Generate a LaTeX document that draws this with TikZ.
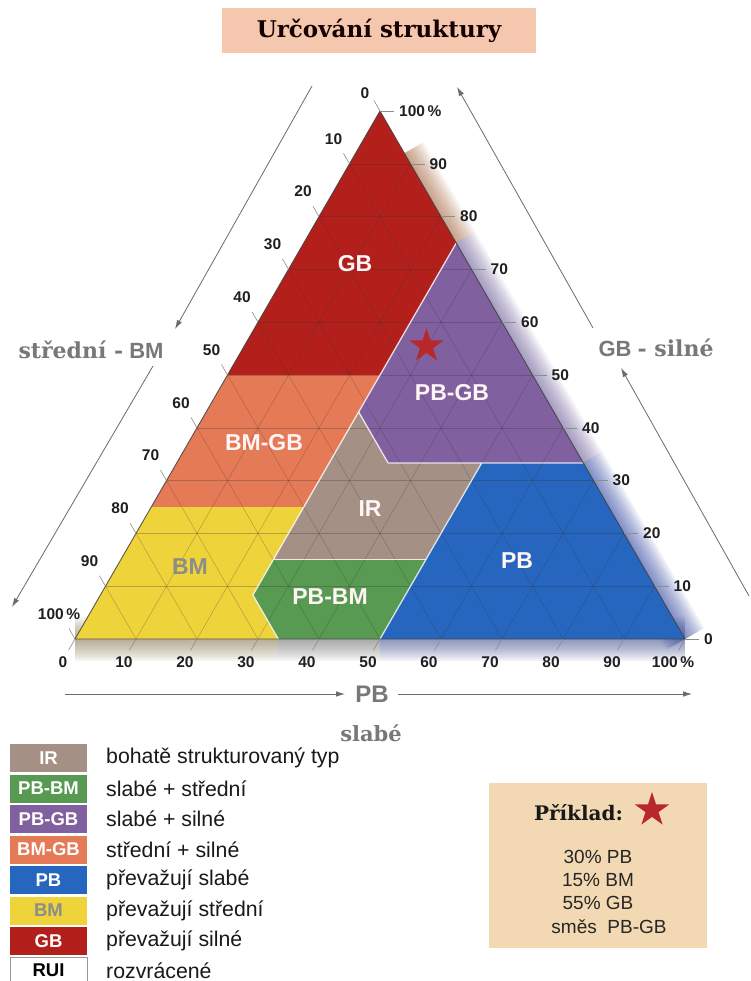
\documentclass[tikz,border=0pt]{standalone}
\usepackage{fontspec}
\setmainfont{Liberation Sans}
\newfontfamily\hdfont{DejaVu Serif}
\usetikzlibrary{shapes.geometric,arrows.meta}
\definecolor{cRed}{HTML}{B3201C}
\definecolor{cOrange}{HTML}{E57A57}
\definecolor{cYellow}{HTML}{EFD33A}
\definecolor{cGreen}{HTML}{589A52}
\definecolor{cIR}{HTML}{A59086}
\definecolor{cPurple}{HTML}{80609F}
\definecolor{cBlue}{HTML}{2766BE}
\definecolor{cPeach}{HTML}{F4C7AE}
\definecolor{cTan}{HTML}{F2D9B3}
\definecolor{cStar}{HTML}{B8272A}
\definecolor{cAxis}{HTML}{787878}
\definecolor{cBMtxt}{HTML}{8C8C8C}
\definecolor{cGlowT}{HTML}{A8643C}
\definecolor{cGlowP}{HTML}{6A5A9A}
\definecolor{cGlowB}{HTML}{2A40A0}
\definecolor{cGlowY}{HTML}{8A7A50}
\definecolor{cGlowG}{HTML}{707070}
\definecolor{cGlowBB}{HTML}{405090}
\newcommand\tpt[3]{\coordinate (#1) at ({75+610*((#2)+(#3)/2)},{639-528*(#3)});}
\newcommand\glowseg[3]{\foreach \w in {44,40,...,4}{\draw[#1,opacity=0.07,line width=\w] #2 -- #3;}}
\begin{document}
\begin{tikzpicture}[x=1pt,y=-1pt,
  gridline/.style={draw=black!80, opacity=0.3, line width=0.55},
  bdry/.style={draw=white, opacity=0.8, line width=1.3, line join=round},
  tickline/.style={draw=black!45, line width=0.6},
  numlab/.style={font=\fontsize{15.5}{17}\selectfont\bfseries, text=black!88, inner sep=0},
  reglab/.style={font=\fontsize{23}{25}\selectfont\bfseries, text=white!96!red, inner sep=0},
  axarrow/.style={draw=black!58, line width=0.8, -{Latex[length=9pt,width=5.5pt]}},
  axlab/.style={text=cAxis, inner sep=0},
  legbox/.style={minimum width=77, minimum height=28, inner sep=0, font=\fontsize{18.5}{21}\selectfont\bfseries, text=white},
  legtxt/.style={anchor=west, inner sep=0, font=\fontsize{21.3}{23}\selectfont, text=black!90},
  extxt/.style={inner sep=0, font=\fontsize{19}{21}\selectfont, text=black!85}
]
\fill[white] (0,0) rectangle (750,981);
\useasboundingbox (0,0) rectangle (750,981);

% title
\node[fill=cPeach, minimum width=314, minimum height=45, inner sep=0,
  font=\hdfont\bfseries\fontsize{23}{25}\selectfont, text=black!92!red] (title) at (379,30.5) {Určování struktury};

% key points (p = PB share, g = GB share)
\tpt{A}{0}{1}
\tpt{BL}{0}{0}
\tpt{BR}{1}{0}
\tpt{L50}{0}{0.5}
\tpt{L25}{0}{0.25}
\tpt{R75}{0.25}{0.75}
\tpt{R92}{0.08}{0.92}
\tpt{C50}{0.25}{0.5}
\tpt{C43}{0.25}{0.43}
\tpt{Q}{0.3467}{0.3333}
\tpt{R33}{0.6667}{0.3333}
\tpt{P50}{0.5}{0.3333}
\tpt{G50}{0.5}{0.15}
\tpt{G25}{0.25}{0.15}
\tpt{C25}{0.25}{0.25}
\tpt{Y}{0.25}{0.0833}
\tpt{B33}{0.3333}{0}
\tpt{B50}{0.5}{0}

% glow
\glowseg{cGlowT}{(R92)}{(R75)}
\glowseg{cGlowP}{(R75)}{(R33)}
\glowseg{cGlowB}{(R33)}{(BR)}
\glowseg{cGlowY}{(BL)}{(B33)}
\glowseg{cGlowG}{(B33)}{(B50)}
\glowseg{cGlowBB}{(B50)}{(BR)}

% regions
\fill[cRed] (A) -- (R75) -- (C50) -- (L50) -- cycle;
\fill[cOrange] (L50) -- (C50) -- (C25) -- (L25) -- cycle;
\fill[cYellow] (L25) -- (C25) -- (Y) -- (B33) -- (BL) -- cycle;
\fill[cGreen] (G25) -- (G50) -- (B50) -- (B33) -- (Y) -- cycle;
\fill[cIR] (C43) -- (Q) -- (P50) -- (G50) -- (G25) -- cycle;
\fill[cPurple] (C50) -- (R75) -- (R33) -- (P50) -- (Q) -- (C43) -- cycle;
\fill[cBlue] (P50) -- (R33) -- (BR) -- (B50) -- cycle;

% grid
\foreach \i in {1,...,9}{
  \pgfmathsetmacro\k{\i/10}
  \draw[gridline] ({75+305*\k},{639-528*\k}) -- ({685-305*\k},{639-528*\k});
  \draw[gridline] ({75+610*\k},639) -- ({75+610*(\k+(1-\k)/2)},{639-528*(1-\k)});
  \draw[gridline] ({75+610*(1-\k)},639) -- ({75+305*(1-\k)},{639-528*(1-\k)});
}

% region boundaries
\draw[bdry] (R75) -- (C50) -- (Y);
\draw[bdry] (C43) -- (Q) -- (P50) -- (R33);
\draw[bdry] (P50) -- (B50);
\draw[bdry] (G25) -- (G50);
\draw[bdry] (Y) -- (B33);

% outline
\draw[black!75, opacity=0.85, line width=0.9] (A) -- (BL) -- (BR) -- cycle;

% ticks and scale numbers
\foreach \i in {0,...,10}{
  \pgfmathsetmacro\k{\i/10}
  \pgfmathtruncatemacro\v{\i*10}
  \coordinate (eL\i) at ({75+305*(1-\k)},{639-528*(1-\k)});
  \coordinate (eB\i) at ({75+610*\k},639);
  \coordinate (eR\i) at ({685-305*\k},{639-528*\k});
  \draw[tickline] (eL\i) -- ++(-6,-10.4);
  \draw[tickline] (eB\i) -- ++(-6.5,11.3);
  \draw[tickline] (eR\i) -- ++(14,0);
  \ifnum\i=0
    \node[numlab] (nL\i) at ([xshift=-15pt,yshift=18pt]eL\i) {0};
  \else
    \node[numlab] (nL\i) at ([xshift=-16pt,yshift=25pt]eL\i) {\ifnum\i=10 100\,\%\else\v\fi};
  \fi
  \node[numlab] (nB\i) at ([xshift=-12pt,yshift=-23pt]eB\i) {\ifnum\i=10 100\,\%\else\v\fi};
  \node[numlab, anchor=west] (nR\i) at ([xshift=19pt]eR\i) {\ifnum\i=10 100\,\%\else\v\fi};
}

% region labels
\node[reglab] (tGB) at (355,264) {GB};
\node[reglab] (tBMGB) at (264,443) {BM-GB};
\node[reglab, text=cBMtxt] (tBM) at (190,567) {BM};
\node[reglab] (tPBBM) at (330,597) {PB-BM};
\node[reglab] (tIR) at (370,509) {IR};
\node[reglab] (tPBGB) at (452,393) {PB-GB};
\node[reglab] (tPB) at (517,561) {PB};

% example star
\node[star, star points=5, star point ratio=2.618, fill=cStar, minimum size=36, inner sep=0] (star) at (426.5,346) {};

% axis labels
\node[axlab, font=\fontsize{22}{24}\selectfont] (axBM) at (91,350) {{\hdfont\bfseries střední -} {\bfseries BM}};
\node[axlab, font=\fontsize{22}{24}\selectfont] (axGB) at (656,348) {{\bfseries GB} {\hdfont\bfseries - silné}};
\node[axlab, font=\fontsize{24}{26}\selectfont\bfseries] (axPB) at (372,694) {PB};
\node[axlab, font=\hdfont\bfseries\fontsize{21}{23}\selectfont] (axSl) at (371,733) {slabé};

% axis arrows
\coordinate (l1s) at (312,86);  \coordinate (l1e) at (175,329);
\coordinate (l2s) at (153,366); \coordinate (l2e) at (12,607);
\coordinate (r1s) at (749,596); \coordinate (r1e) at (621,368);
\coordinate (r2s) at (593,328); \coordinate (r2e) at (457,87);
\coordinate (b1s) at (65,694);  \coordinate (b1e) at (345,694);
\coordinate (b2s) at (398,694); \coordinate (b2e) at (692,694);
\draw[axarrow] (l1s) -- (l1e);
\draw[axarrow] (l2s) -- (l2e);
\draw[axarrow] (r1s) -- (r1e);
\draw[axarrow] (r2s) -- (r2e);
\draw[axarrow] (b1s) -- (b1e);
\draw[axarrow] (b2s) -- (b2e);

% legend
\node[legbox, fill=cIR] (kIR) at (48.5,758) {IR};
\node[legbox, fill=cGreen] (kPBBM) at (48.5,788.5) {PB-BM};
\node[legbox, fill=cPurple] (kPBGB) at (48.5,819) {PB-GB};
\node[legbox, fill=cOrange] (kBMGB) at (48.5,849.5) {BM-GB};
\node[legbox, fill=cBlue] (kPB) at (48.5,880) {PB};
\node[legbox, fill=cYellow, text=cBMtxt] (kBM) at (48.5,910.5) {BM};
\node[legbox, fill=cRed] (kGB) at (48.5,941) {GB};
\node[legbox, fill=white, draw=black!40, line width=0.8, text=black, minimum height=26] (kRUI) at (48.5,970.5) {RUI};
\node[legtxt] (dIR) at (106,758) {bohatě strukturovaný typ};
\node[legtxt] (dPBBM) at (106,788.5) {slabé + střední};
\node[legtxt] (dPBGB) at (106,819) {slabé + silné};
\node[legtxt] (dBMGB) at (106,849.5) {střední + silné};
\node[legtxt] (dPB) at (106,880) {převažují slabé};
\node[legtxt] (dBM) at (106,910.5) {převažují střední};
\node[legtxt] (dGB) at (106,941) {převažují silné};
\node[legtxt] (dRUI) at (106,970.5) {rozvrácené};

% example box
\node[fill=cTan, minimum width=218, minimum height=165, inner sep=0] (exbox) at (598,865.5) {};
\node[inner sep=0, font=\hdfont\bfseries\fontsize{20}{22}\selectfont, text=black!90] (exhead) at (578.5,813) {Příklad:};
\node[star, star points=5, star point ratio=2.618, fill=cStar, minimum size=36, inner sep=0] (exstar) at (652,810) {};
\node[extxt] (ex1) at (598,857) {30\% PB};
\node[extxt] (ex2) at (598,880) {15\% BM};
\node[extxt] (ex3) at (598,903) {55\% GB};
\node[extxt] (ex4) at (609,927) {směs\ \ PB-GB};
\end{tikzpicture}
\end{document}
